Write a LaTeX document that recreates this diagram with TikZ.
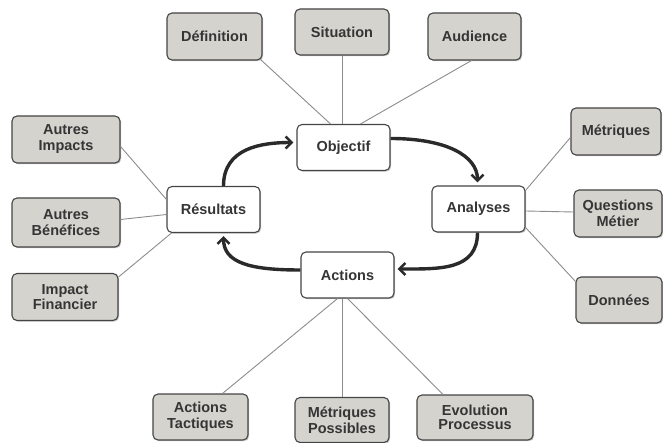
\documentclass[tikz,border=0pt]{standalone}
\usepackage{fontspec}
\setmainfont{Liberation Sans}
\usetikzlibrary{arrows.meta,shadows}
\definecolor{boxfill}{HTML}{D5D3CD}
\definecolor{boxline}{HTML}{454545}
\definecolor{txt}{HTML}{353535}
\definecolor{conn}{HTML}{8C8C8C}
\definecolor{arr}{HTML}{2A2A2A}
\tikzset{
  basebox/.style={draw=boxline, line width=1.1pt, rounded corners=5pt, align=center,
    font=\fontsize{14.5}{16}\selectfont\bfseries, text=txt, inner sep=2pt,
    drop shadow={shadow xshift=1.2pt, shadow yshift=-1.2pt, fill=black!35, opacity=0.6}},
  outerbox/.style={basebox, fill=boxfill},
  centerbox/.style={basebox, fill=white, minimum width=93pt, minimum height=46pt},
  tight/.style={font=\fontsize{14.5}{14.5}\selectfont\bfseries},
  link/.style={draw=conn, line width=0.9pt},
  cycle/.style={draw=arr, line width=3.4pt, shorten >=3pt,
    -{Straight Barb[length=6pt,width=12pt,line width=2.6pt]}}
}
\begin{document}
\begin{tikzpicture}[x=1pt,y=-1pt]
\useasboundingbox (0,0) rectangle (663,443);
% central nodes
\node[centerbox] (obj) at (343.5,147.5) {Objectif};
\node[centerbox] (ana) at (478.5,209) {Analyses};
\node[centerbox] (act) at (347.5,275) {Actions};
\node[centerbox] (res) at (213.5,209.5) {Résultats};
% outer nodes top
\node[outerbox, minimum width=95pt, minimum height=47pt] (def) at (214.5,36.5) {Définition};
\node[outerbox, minimum width=94pt, minimum height=46pt] (sit) at (342,32) {Situation};
\node[outerbox, minimum width=93pt, minimum height=47pt] (aud) at (474.5,36.5) {Audience};
% left
\node[outerbox, minimum width=108pt, minimum height=47pt] (imp) at (66,139.5) {Autres\\Impacts};
\node[outerbox, minimum width=108pt, minimum height=49pt] (ben) at (66,222.5) {Autres\\Bénéfices};
\node[outerbox, tight, minimum width=106pt, minimum height=47pt] (fin) at (65,297) {Impact\\Financier};
% right
\node[outerbox, minimum width=90pt, minimum height=47pt] (met) at (616,131.5) {Métriques};
\node[outerbox, minimum width=88pt, minimum height=47pt] (que) at (618,213.5) {Questions\\Métier};
\node[outerbox, minimum width=86pt, minimum height=46pt] (don) at (619,300) {Données};
% bottom
\node[outerbox, minimum width=95pt, minimum height=46pt] (tac) at (200.5,417) {Actions\\Tactiques};
\node[outerbox, minimum width=94pt, minimum height=45pt] (pos) at (342,420) {Métriques\\Possibles};
\node[outerbox, tight, minimum width=116pt, minimum height=45pt] (evo) at (475,417.5) {Evolution\\Processus};
% connectors
\draw[link] ([xshift=-2pt,yshift=1pt]def.south east) -- ([xshift=-13pt]obj.north);
\draw[link] (sit.south) -- (sit.south |- obj.north);
\draw[link] ([xshift=-3pt]aud.south) -- ([xshift=17pt]obj.north);
\draw[link] ([yshift=-7pt]imp.east) -- ([yshift=10pt]res.west);
\draw[link] ([yshift=3pt]ben.east) -- ([yshift=-5pt]res.west);
\draw[link] ([yshift=-4pt]fin.north east) -- ([xshift=5pt]res.south west);
\draw[link] ([yshift=-6pt]met.west) -- ([yshift=-5pt]ana.north east);
\draw[link] ([yshift=1.5pt]que.west) -- ([yshift=-2pt]ana.east);
\draw[link] ([yshift=-5pt]don.north west) -- ([yshift=5pt]ana.south east);
\draw[link] ([xshift=22pt]tac.north) -- ([xshift=-10pt]act.south);
\draw[link] (pos.north) -- (pos.north |- act.south);
\draw[link] ([xshift=-32pt]evo.north) -- (act.south);
% cycle arrows
\draw[cycle] ([xshift=10pt]res.north) .. controls +(0,-38) and +(-35,0) .. ([yshift=5pt]obj.west);
\draw[cycle] ([yshift=9pt]obj.east) .. controls +(55,0) and +(0,-30) .. ([xshift=-1pt]ana.north);
\draw[cycle] ([xshift=-1pt]ana.south) .. controls +(0,38) and +(45,0) .. ([yshift=6pt]act.east);
\draw[cycle] ([yshift=5pt]act.west) .. controls +(-50,0) and +(0,30) .. ([xshift=10pt]res.south);
\end{tikzpicture}
\end{document}
